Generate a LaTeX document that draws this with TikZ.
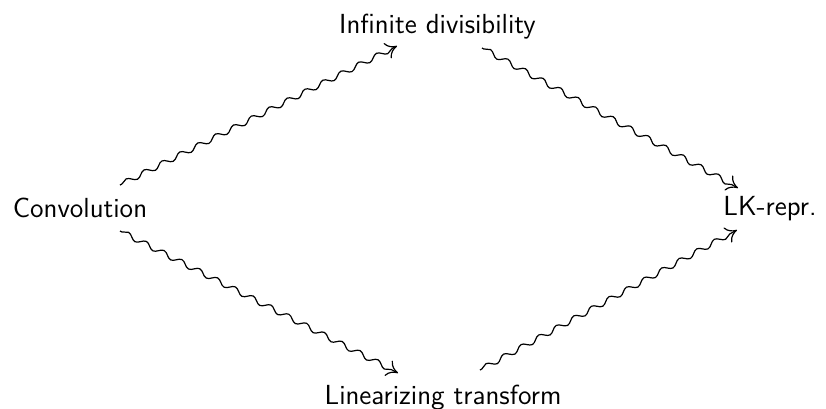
\documentclass[tikz,border=0pt]{standalone}
\usetikzlibrary{decorations.pathmorphing,arrows.meta}
\begin{document}
\begin{tikzpicture}[x=0.5pt,y=-0.5pt,
  lbl/.style={anchor=base,inner sep=0pt,font=\fontsize{13.8}{17}\selectfont\sffamily},
  squig/.style={line width=0.6pt,
    decorate,decoration={snake,amplitude=1.35pt,segment length=10pt,pre length=1pt,post length=2.5pt},
    -{Computer Modern Rightarrow[length=5.5pt,width=8.5pt]}}]
\useasboundingbox (0,0) rectangle (826,408);
\node[lbl] (conv) at (80,217) {Convolution};
\node[lbl] (inf) at (437.5,33) {Infinite divisibility};
\node[lbl] (lk) at (770,215) {LK-repr.};
\node[lbl] (lin) at (443,404) {Linearizing transform};
\draw[squig] ([shift={(40,-32)}]conv.base) -- ([shift={(-40.5,13)}]inf.base);
\draw[squig] ([shift={(44.5,15)}]inf.base) -- ([shift={(-32,-27)}]lk.base);
\draw[squig] ([shift={(40,14)}]conv.base) -- ([shift={(-45,-31)}]lin.base);
\draw[squig] ([shift={(37,-34)}]lin.base) -- ([shift={(-33,15)}]lk.base);
\end{tikzpicture}
\end{document}
